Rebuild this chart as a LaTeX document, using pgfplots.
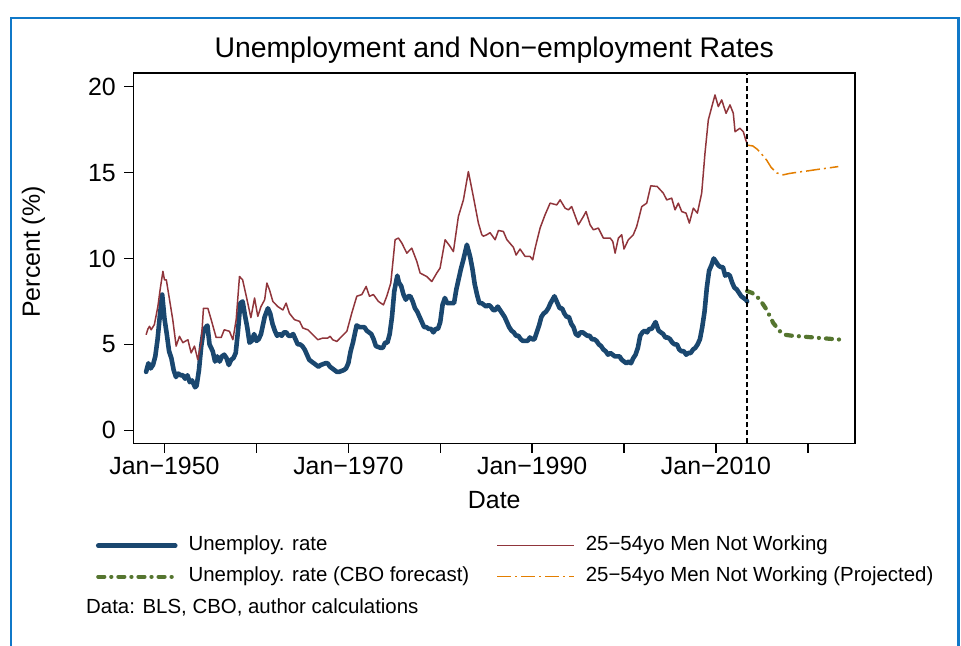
\documentclass[border=0pt]{standalone}
\usepackage{fontspec}
\setmainfont{Liberation Sans}
\usepackage{pgfplots}
\pgfplotsset{compat=1.18}
\definecolor{sblue}{RGB}{26,71,111}
\definecolor{smaroon}{RGB}{144,53,59}
\definecolor{sgreen}{RGB}{85,117,47}
\definecolor{sorange}{RGB}{227,126,0}
\definecolor{frameblue}{RGB}{16,120,200}
\begin{document}
\begin{tikzpicture}[x=1bp,y=1bp]
\path[use as bounding box] (0,0) rectangle (961,646);
\draw[frameblue, line width=2.5bp] (11,-5) -- (11,628) -- (958.5,628) -- (958.5,-5);
\begin{axis}[
  at={(133.5bp,202.5bp)}, anchor=south west, scale only axis,
  width=721.5bp, height=370.2bp,
  xmin=1946.63, xmax=2025.12, ymin=-0.77, ymax=20.78,
  axis line style={line width=1.8bp},
  tick align=outside, major tick length=9.5bp,
  every tick/.style={line width=1.4bp, black},
  xtick pos=bottom, ytick pos=left,
  xtick={1950,1960,1970,1980,1990,2000,2010,2020},
  xticklabels={Jan−1950,,Jan−1970,,Jan−1990,,Jan−2010,},
  ytick={0,5,10,15,20},
  /pgf/number format/assume math mode=true,
  ticklabel style={font=\fontsize{25}{30}\selectfont, inner sep=0pt},
  yticklabel style={anchor=east, xshift=-8bp},
  xticklabel style={anchor=north, yshift=-4bp},
  title={Unemployment and Non−employment Rates},
  title style={at={(axis description cs:0.5,1.0278)}, anchor=base, font=\fontsize{28.5}{34}\selectfont, inner sep=0pt},
  xlabel={Date},
  xlabel style={at={(axis description cs:0.5,-0.175)}, anchor=base, font=\fontsize{25}{30}\selectfont, inner sep=0pt},
  ylabel={Percent (\%)},
  ylabel style={at={(axis description cs:-0.1296,0.5173)}, anchor=base, font=\fontsize{25}{30}\selectfont, inner sep=0pt},
  legend columns=2,
  legend cell align=left,
  legend image code/.code={\draw[#1] (0bp,0bp) -- (77bp,0bp);},
  legend style={at={(axis description cs:-0.052,-0.2491)}, anchor=north west,
    draw=none, fill=none, inner sep=0pt, outer sep=0pt,
    font=\fontsize{20.5}{24}\selectfont,
    row sep=11bp,
    nodes={inner sep=0pt, text height=15bp, text depth=5bp},
    /tikz/every odd column/.append style={column sep=11bp},
    /tikz/every even column/.append style={column sep=27bp}},
]
\addplot[sblue, line width=4.6bp, line join=round, line cap=round] coordinates {
(1948.0,3.4)(1948.25,3.9)(1948.5,3.6)(1948.75,3.8)(1949.0,4.3)(1949.25,5.3)(1949.5,6.7)(1949.75,7.9)
(1950.0,6.5)(1950.25,5.6)(1950.5,4.6)(1950.75,4.2)(1951.0,3.5)(1951.25,3.1)(1951.5,3.3)(1951.75,3.2)
(1952.0,3.2)(1952.25,3.0)(1952.5,3.2)(1952.75,2.8)(1953.0,2.9)(1953.33,2.5)(1953.5,2.6)(1953.75,3.5)
(1954.0,4.9)(1954.25,5.8)(1954.5,6.0)(1954.67,6.1)(1954.9,5.0)(1955.25,4.6)(1955.5,4.0)(1955.75,4.3)
(1956.0,4.0)(1956.25,4.3)(1956.5,4.4)(1956.75,4.2)(1957.0,3.8)(1957.25,4.1)(1957.5,4.2)(1957.75,4.5)
(1958.0,5.8)(1958.25,7.4)(1958.5,7.5)(1958.75,6.7)(1959.0,6.0)(1959.25,5.1)(1959.5,5.2)(1959.75,5.6)
(1960.0,5.2)(1960.25,5.3)(1960.5,5.6)(1960.9,6.6)(1961.25,7.1)(1961.5,6.8)(1961.75,6.2)
(1962.0,5.8)(1962.25,5.5)(1962.5,5.6)(1962.75,5.5)(1963.0,5.7)(1963.25,5.7)(1963.5,5.5)(1963.75,5.5)
(1964.0,5.6)(1964.25,5.3)(1964.5,5.0)(1964.75,5.0)(1965.0,4.9)(1965.25,4.7)(1965.5,4.4)(1965.75,4.1)
(1966.0,4.0)(1966.5,3.8)(1966.75,3.7)(1967.0,3.8)(1967.5,3.9)(1967.75,3.9)(1968.0,3.7)(1968.5,3.5)
(1968.75,3.4)(1969.0,3.4)(1969.5,3.5)(1969.75,3.6)(1970.0,3.9)(1970.25,4.6)(1970.5,5.1)(1970.9,6.1)
(1971.25,6.0)(1971.5,6.0)(1971.75,6.0)(1972.0,5.8)(1972.25,5.7)(1972.5,5.6)(1972.75,5.3)(1973.0,4.9)
(1973.5,4.8)(1973.75,4.8)(1974.0,5.1)(1974.25,5.1)(1974.5,5.6)(1974.75,6.6)(1975.0,8.1)(1975.33,9.0)
(1975.5,8.6)(1975.75,8.4)(1976.0,7.9)(1976.25,7.6)(1976.5,7.8)(1976.75,7.8)(1977.0,7.5)(1977.25,7.1)
(1977.5,6.9)(1977.75,6.6)(1978.0,6.3)(1978.25,6.0)(1978.5,6.0)(1978.75,5.9)(1979.0,5.9)(1979.25,5.7)
(1979.5,5.9)(1979.75,5.9)(1980.0,6.3)(1980.25,7.3)(1980.5,7.7)(1980.75,7.4)(1981.0,7.4)(1981.25,7.4)
(1981.5,7.4)(1981.75,8.2)(1982.0,8.8)(1982.25,9.4)(1982.5,9.9)(1982.9,10.8)(1983.25,10.1)(1983.5,9.4)
(1983.75,8.5)(1984.0,7.9)(1984.25,7.4)(1984.5,7.4)(1984.75,7.3)(1985.0,7.2)(1985.25,7.3)(1985.5,7.2)
(1985.75,7.0)(1986.0,7.0)(1986.25,7.2)(1986.5,7.0)(1986.75,6.8)(1987.0,6.6)(1987.25,6.3)(1987.5,6.0)
(1987.75,5.8)(1988.0,5.7)(1988.25,5.5)(1988.5,5.5)(1988.75,5.3)(1989.0,5.2)(1989.25,5.2)(1989.5,5.2)
(1989.75,5.4)(1990.0,5.3)(1990.25,5.3)(1990.5,5.7)(1990.75,6.1)(1991.0,6.6)(1991.25,6.8)(1991.5,6.9)
(1991.75,7.1)(1992.0,7.4)(1992.42,7.8)(1992.75,7.4)(1993.0,7.1)(1993.25,7.1)(1993.5,6.8)(1993.75,6.6)
(1994.0,6.6)(1994.25,6.2)(1994.5,6.0)(1994.75,5.6)(1995.0,5.5)(1995.25,5.7)(1995.5,5.7)(1995.75,5.6)
(1996.0,5.5)(1996.25,5.5)(1996.5,5.3)(1996.75,5.3)(1997.0,5.2)(1997.25,5.0)(1997.5,4.9)(1997.75,4.7)
(1998.0,4.6)(1998.25,4.4)(1998.5,4.5)(1998.75,4.4)(1999.0,4.3)(1999.25,4.3)(1999.5,4.3)(1999.75,4.1)
(2000.0,4.0)(2000.25,3.9)(2000.5,4.0)(2000.75,3.9)(2001.0,4.2)(2001.25,4.4)(2001.5,4.8)(2001.75,5.5)
(2002.0,5.7)(2002.25,5.8)(2002.5,5.7)(2002.75,5.9)(2003.0,5.9)(2003.42,6.3)(2003.75,5.8)(2004.0,5.7)
(2004.25,5.6)(2004.5,5.4)(2004.75,5.4)(2005.0,5.3)(2005.25,5.1)(2005.5,5.0)(2005.75,5.0)(2006.0,4.7)
(2006.25,4.6)(2006.5,4.6)(2006.75,4.4)(2007.0,4.5)(2007.25,4.5)(2007.5,4.7)(2007.75,4.8)(2008.0,5.0)
(2008.25,5.3)(2008.5,6.0)(2008.75,6.9)(2009.0,8.3)(2009.25,9.3)(2009.5,9.6)(2009.75,10.0)(2010.0,9.8)
(2010.25,9.6)(2010.5,9.5)(2010.75,9.5)(2011.0,9.0)(2011.25,9.1)(2011.5,9.0)(2011.75,8.6)(2012.0,8.3)
(2012.25,8.2)(2012.5,8.0)(2012.75,7.8)(2013.0,7.7)(2013.25,7.6)(2013.38,7.5)
};
\addlegendentry{Unemploy. rate}
\addplot[smaroon, line width=1.5bp, line join=round] coordinates {
(1948.0,5.56)(1948.2,5.9)(1948.37,6.05)(1948.55,5.85)(1948.9,6.15)(1949.28,7.2)(1949.53,8.2)(1949.83,9.25)
(1950.0,8.76)(1950.2,8.76)(1950.55,7.6)(1950.9,6.44)(1951.27,4.9)(1951.63,5.47)(1952.0,5.1)(1952.55,5.27)
(1952.9,4.5)(1953.26,4.9)(1953.63,4.1)(1953.8,4.6)(1954.0,5.1)(1954.24,7.1)(1954.72,7.1)(1955.08,6.44)
(1955.62,5.4)(1956.17,5.4)(1956.5,5.85)(1957.07,5.76)(1957.44,5.27)(1957.8,6.44)(1958.16,8.95)(1958.5,8.76)
(1958.9,7.8)(1959.4,6.55)(1959.8,7.7)(1960.15,6.63)(1960.5,7.2)(1960.9,7.6)(1961.14,8.57)(1961.42,8.18)
(1961.79,7.5)(1962.33,7.2)(1962.88,7.0)(1963.23,7.4)(1963.6,6.8)(1964.14,6.44)(1964.7,6.34)(1965.05,5.95)
(1965.6,5.85)(1966.14,5.56)(1966.68,5.27)(1967.23,5.37)(1967.77,5.37)(1968.02,5.47)(1968.3,5.27)(1968.75,5.17)
(1969.29,5.47)(1969.84,5.76)(1970.38,6.83)(1970.92,7.8)(1971.47,7.9)(1971.94,8.37)(1972.3,7.8)(1972.73,7.9)
(1973.27,7.5)(1973.82,7.3)(1974.18,7.8)(1974.62,8.57)(1975.09,11.09)(1975.45,11.19)(1975.82,10.9)(1976.36,10.31)
(1976.9,10.6)(1977.45,9.83)(1977.81,9.15)(1978.53,8.95)(1979.08,8.66)(1979.62,9.15)(1979.98,9.44)(1980.53,11.09)
(1981.07,10.7)(1981.43,10.4)(1981.97,12.44)(1982.52,13.41)(1983.06,15.06)(1983.6,13.6)(1984.15,12.06)(1984.52,11.38)
(1984.7,11.3)(1985.06,11.38)(1985.42,11.5)(1985.97,11.09)(1986.33,11.63)(1986.87,11.57)(1987.24,11.1)(1987.96,10.65)
(1988.25,10.2)(1988.68,10.55)(1989.23,10.12)(1989.77,10.12)(1990.06,9.92)(1990.32,10.6)(1990.86,11.77)(1991.4,12.54)
(1991.95,13.22)(1992.68,13.12)(1993.04,13.41)(1993.58,12.93)(1993.94,12.83)(1994.3,13.02)(1995.03,11.96)(1995.57,12.44)
(1995.86,12.73)(1996.3,11.96)(1996.66,11.67)(1997.2,11.77)(1997.74,11.19)(1998.48,11.19)(1998.77,10.99)(1999.02,10.31)
(1999.38,11.19)(1999.74,11.38)(1999.99,10.55)(2000.46,11.09)(2001.0,11.38)(2001.37,11.86)(2001.92,13.02)(2002.46,13.22)
(2002.9,14.23)(2003.6,14.19)(2004.27,13.8)(2004.64,13.41)(2005.18,13.51)(2005.54,12.83)(2005.9,13.22)(2006.27,12.73)
(2006.74,12.64)(2007.1,12.06)(2007.53,12.93)(2007.97,12.64)(2008.44,13.8)(2008.8,16.13)(2009.16,18.06)(2009.64,19.03)
(2009.89,19.52)(2010.25,18.84)(2010.62,19.23)(2011.09,18.45)(2011.52,18.94)(2011.88,18.45)(2012.07,17.38)(2012.6,17.58)
(2012.97,17.38)(2013.23,16.9)(2013.38,16.7)
};
\addlegendentry{25−54yo Men Not Working}
\addplot[sgreen, line width=4.2bp, line cap=round, dash pattern=on 6bp off 7bp on 0.1bp off 7bp] coordinates {
(2013.38,8.1)(2013.9,8.0)(2014.3,7.85)(2014.78,7.6)(2015.5,7.02)(2016.23,6.24)(2016.96,5.76)(2017.5,5.56)
(2018.3,5.5)(2019.13,5.47)(2020.2,5.42)(2021.3,5.37)(2022.5,5.32)(2023.67,5.27)
};
\addlegendentry{Unemploy. rate (CBO forecast)}
\addplot[sorange, line width=1.5bp, dash pattern=on 14bp off 4bp on 2bp off 4bp] coordinates {
(2013.38,16.6)(2014.0,16.55)(2014.5,16.35)(2015.0,16.05)(2015.5,15.73)(2016.0,15.3)(2016.6,14.98)(2017.32,14.87)
(2018.0,14.95)(2019.0,15.03)(2020.0,15.1)(2021.0,15.18)(2022.0,15.25)(2023.3,15.35)
};
\addlegendentry{25−54yo Men Not Working (Projected)}
\addplot[forget plot, black, line width=1.5bp, dash pattern=on 5bp off 3bp] coordinates {(2013.38,-0.77)(2013.38,20.78)};
\end{axis}
\node[anchor=base west, inner sep=0pt, font=\fontsize{20.5}{24}\selectfont] at (86,32.7) {Data: BLS, CBO, author calculations};
\end{tikzpicture}
\end{document}
